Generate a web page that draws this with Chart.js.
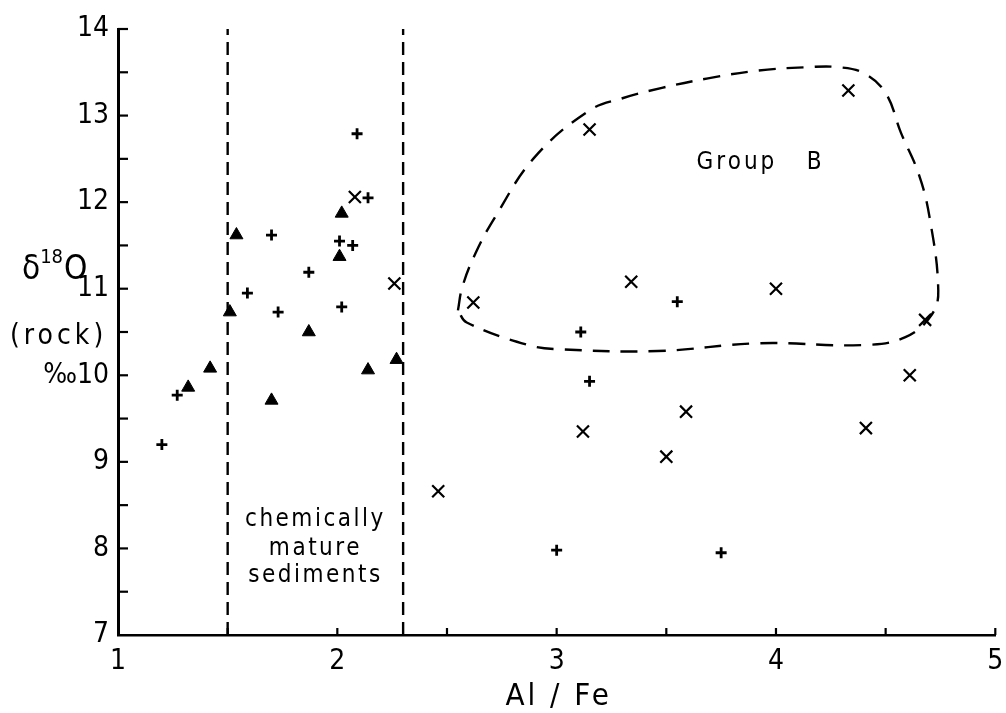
<!DOCTYPE html>
<html>
<head>
<meta charset="utf-8">
<script src="https://cdn.jsdelivr.net/npm/chart.js@4/dist/chart.umd.min.js"></script>
<style>
  html, body { margin: 0; padding: 0; background: #fff; }
  #wrap { width: 1006px; height: 713px; }
</style>
</head>
<body>
<div id="wrap"><canvas id="scatterChart" width="1006" height="713"></canvas></div>
<script>
// Al/Fe against delta 18O (rock), three sample groups
var plusAlFe = [1.20, 1.27, 1.70, 1.87, 1.59, 1.73, 2.09, 2.14, 2.01, 2.07, 2.02, 3.55, 3.11, 3.15, 3.00, 3.75];
var plusD18O = [9.20, 9.77, 11.62, 11.19, 10.95, 10.73, 12.79, 12.05, 11.55, 11.50, 10.79, 10.85, 10.50, 9.93, 7.98, 7.95];

var crossAlFe = [2.08, 2.26, 2.62, 3.15, 3.34, 4.33, 4.00, 4.68, 3.12, 2.46, 3.50, 3.59, 4.41, 4.61];
var crossD18O = [12.06, 11.06, 10.84, 12.84, 11.08, 13.29, 11.00, 10.64, 9.35, 8.66, 9.06, 9.58, 9.39, 10.00];

var triAlFe = [1.54, 2.02, 2.01, 1.51, 1.87, 1.42, 1.32, 1.70, 2.14, 2.27];
var triD18O = [11.62, 11.87, 11.37, 10.73, 10.50, 10.08, 9.86, 9.71, 10.06, 10.18];

// limits of the chemically mature sediments band
var matureLimits = [1.5, 2.3];

// outline drawn round Group B
var groupB = [
  [2.55, 10.75], [2.57, 11.02], [2.63, 11.41], [2.72, 11.83], [2.90, 12.52],
  [3.15, 13.06], [3.30, 13.20], [3.48, 13.32], [3.69, 13.43], [3.92, 13.52],
  [4.15, 13.56], [4.28, 13.56], [4.40, 13.49], [4.50, 13.26], [4.57, 12.80],
  [4.65, 12.33], [4.70, 11.83], [4.74, 10.98], [4.71, 10.70], [4.59, 10.44],
  [4.40, 10.35], [3.92, 10.37], [3.46, 10.28], [3.02, 10.30], [2.87, 10.35],
  [2.59, 10.61], [2.55, 10.75]
];

var xTicks = [1, 2, 3, 4, 5];
var yTicks = [7, 8, 9, 10, 11, 12, 13, 14];

var FONT = '"DejaVu Sans Condensed", "DejaVu Sans", sans-serif';

function pts(xs, ys) {
  return xs.map(function (x, i) { return {x: x, y: ys[i]}; });
}

var datasets = [
  {
    label: 'plus',
    data: pts(plusAlFe, plusD18O),
    pointStyle: 'cross',
    pointRadius: 5.5,
    pointBorderWidth: 2.8,
    borderColor: '#000',
    backgroundColor: '#000'
  },
  {
    label: 'cross',
    data: pts(crossAlFe, crossD18O),
    pointStyle: 'crossRot',
    pointRadius: 8.5,
    pointBorderWidth: 2.2,
    borderColor: '#000',
    backgroundColor: '#000'
  },
  {
    label: 'triangle',
    data: pts(triAlFe, triD18O),
    pointStyle: 'triangle',
    pointRadius: 7.5,
    pointBorderWidth: 1,
    borderColor: '#000',
    backgroundColor: '#000'
  },
  {
    label: 'Group B',
    data: groupB.map(function (p) { return {x: p[0], y: p[1]}; }),
    showLine: true,
    tension: 0.4,
    borderColor: '#000',
    borderWidth: 2.4,
    borderDash: [17, 11],
    pointRadius: 0
  }
];

matureLimits.forEach(function (v) {
  datasets.push({
    label: 'limit ' + v,
    data: [{x: v, y: 7}, {x: v, y: 14}],
    showLine: true,
    borderColor: '#000',
    borderWidth: 2.4,
    borderDash: [13, 7],
    pointRadius: 0
  });
});

// inward tick marks, axis text and notes
var annotate = {
  id: 'annotate',
  afterDraw: function (chart) {
    var ctx = chart.ctx, xs = chart.scales.x, ys = chart.scales.y;
    var area = chart.chartArea;
    ctx.save();
    ctx.strokeStyle = '#000';
    ctx.lineWidth = 2.2;
    for (var v = 7.5; v <= 14; v += 0.5) {
      var py = ys.getPixelForValue(v);
      ctx.beginPath();
      ctx.moveTo(area.left, py);
      ctx.lineTo(area.left + 10, py);
      ctx.stroke();
    }
    for (var u = 1.5; u <= 5; u += 0.5) {
      var px = xs.getPixelForValue(u);
      ctx.beginPath();
      ctx.moveTo(px, area.bottom);
      ctx.lineTo(px, area.bottom - 7);
      ctx.stroke();
    }

    ctx.fillStyle = '#000';
    ctx.textBaseline = 'middle';

    // y axis title
    ctx.textAlign = 'left';
    var ty = ys.getPixelForValue(11.25);
    ctx.font = '33px ' + FONT;
    ctx.fillText('δ', 22, ty + 3);
    var w = ctx.measureText('δ').width;
    ctx.font = '20px ' + FONT;
    ctx.fillText('18', 22 + w, ty - 9);
    var w2 = ctx.measureText('18').width;
    ctx.font = '33px ' + FONT;
    ctx.fillText('O', 22 + w + w2 + 1, ty + 3);

    ctx.letterSpacing = '4px';
    ctx.font = '28px ' + FONT;
    ctx.fillText('(rock)', 10, ys.getPixelForValue(10.44));

    // x axis title
    ctx.textAlign = 'center';
    ctx.letterSpacing = '3px';
    ctx.font = '31px ' + FONT;
    ctx.fillText('Al / Fe', xs.getPixelForValue(3) + 2, 697);

    // notes in the plot
    ctx.letterSpacing = '3px';
    ctx.font = '24px ' + FONT;
    ctx.fillText('Group   B', xs.getPixelForValue(3.93), ys.getPixelForValue(12.45));
    ctx.letterSpacing = '2.5px';
    ctx.font = '24px ' + FONT;
    ctx.fillText('chemically', xs.getPixelForValue(1.9), ys.getPixelForValue(8.33));
    ctx.fillText('mature', xs.getPixelForValue(1.9), ys.getPixelForValue(8.0));
    ctx.fillText('sediments', xs.getPixelForValue(1.9), ys.getPixelForValue(7.68));
    ctx.restore();
  }
};

var ctx = document.getElementById('scatterChart').getContext('2d');
new Chart(ctx, {
  type: 'scatter',
  data: {datasets: datasets},
  plugins: [annotate],
  options: {
    responsive: false,
    animation: false,
    layout: {padding: {top: 29, right: 7, left: 0, bottom: 0}},
    plugins: {legend: {display: false}, tooltip: {enabled: false}},
    scales: {
      x: {
        type: 'linear',
        min: 1,
        max: 5,
        afterBuildTicks: function (s) { s.ticks = xTicks.map(function (v) { return {value: v}; }); },
        afterFit: function (s) { s.height = 78; },
        grid: {display: false},
        border: {display: true, color: '#000', width: 2.5},
        ticks: {color: '#000', padding: 2, font: {family: FONT, size: 28}}
      },
      y: {
        type: 'linear',
        min: 7,
        max: 14,
        afterBuildTicks: function (s) { s.ticks = yTicks.map(function (v) { return {value: v}; }); },
        afterFit: function (s) { s.width = 118; },
        grid: {display: false},
        border: {display: true, color: '#000', width: 3},
        ticks: {
          color: '#000',
          padding: 1,
          font: {family: FONT, size: 28},
          callback: function (v) { return v === 10 ? '‰10' : String(v); }
        }
      }
    }
  }
});
</script>
</body>
</html>
